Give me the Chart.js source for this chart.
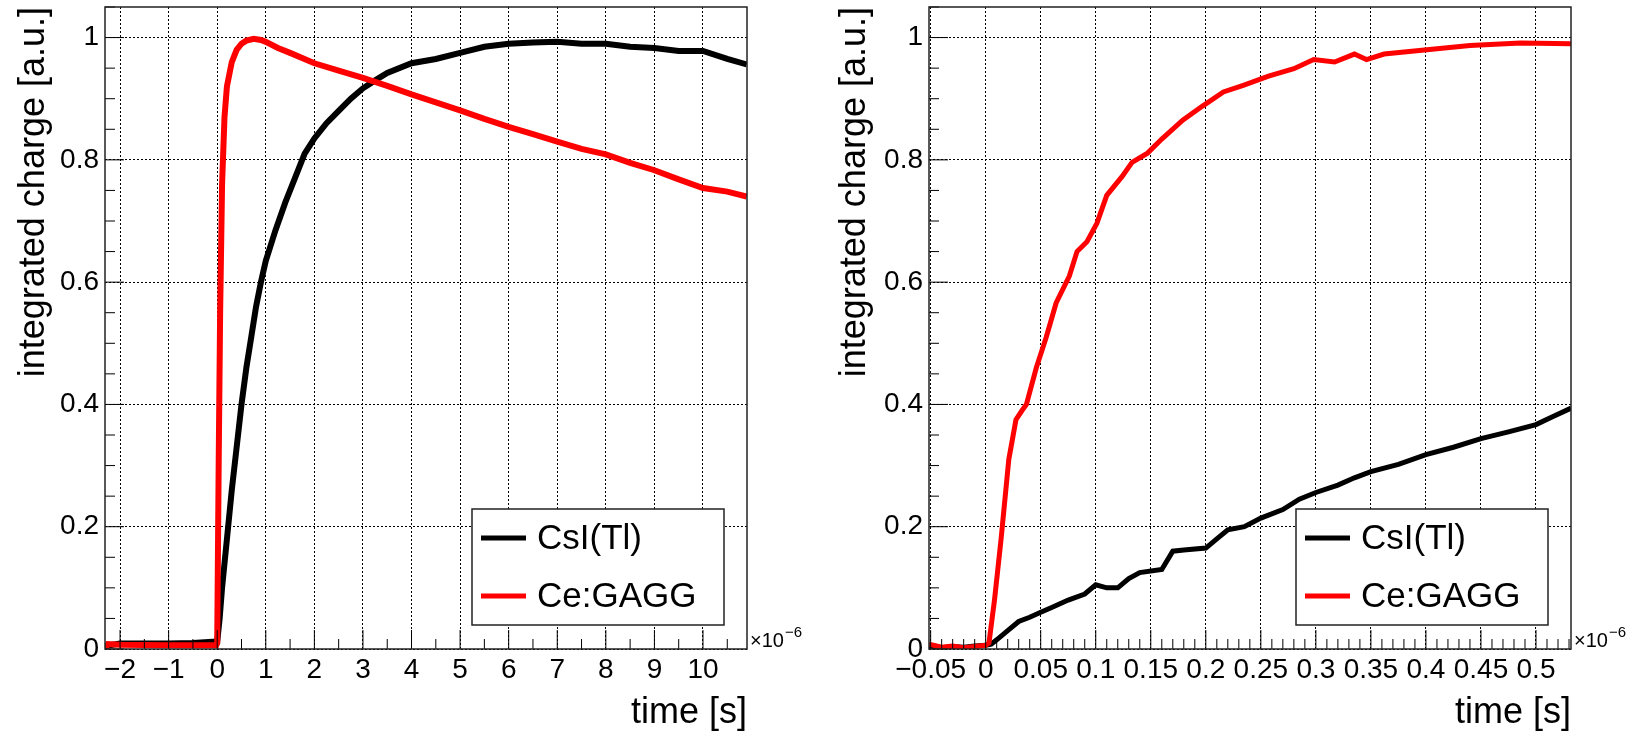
<!DOCTYPE html>
<html>
<head>
<meta charset="utf-8">
<script src="https://cdn.jsdelivr.net/npm/chart.js@4/dist/chart.umd.min.js"></script>
<style>
  html, body { margin: 0; padding: 0; background: #fff; }
  #wrap { position: relative; width: 1630px; height: 731px; }
  .panel { position: absolute; top: 0; width: 815px; height: 731px; }
</style>
</head>
<body>
<div id="wrap">
  <div class="panel" style="left:0"><canvas id="leftChart"></canvas></div>
  <div class="panel" style="left:815px"><canvas id="rightChart"></canvas></div>
</div>
<script>
// time values in units of 1e-6 s (axis shows x10^-6)
const yTicks = [0, 0.2, 0.4, 0.6, 0.8, 1];
const leftXTicks = [-2, -1, 0, 1, 2, 3, 4, 5, 6, 7, 8, 9, 10];
const rightXTicks = [-0.05, 0, 0.05, 0.1, 0.15, 0.2, 0.25, 0.3, 0.35, 0.4, 0.45, 0.5];

// left panel, long time window
const leftCsITime = [-2.31, -2.0, -1.5, -1.0, -0.5, -0.1, 0.0, 0.05, 0.1, 0.2, 0.3, 0.4, 0.5, 0.6, 0.7, 0.8, 0.9, 1.0,
  1.2, 1.4, 1.6, 1.8, 2.0, 2.25, 2.5, 2.75, 3.0, 3.25, 3.5, 4.0, 4.5, 5.0, 5.5, 6.0, 6.5, 7.0, 7.5, 8.0, 8.5,
  9.0, 9.5, 10.0, 10.5, 10.9];
const leftCsIValue = [0.005, 0.009, 0.009, 0.009, 0.01, 0.012, 0.012, 0.05, 0.1, 0.18, 0.26, 0.33, 0.4, 0.46, 0.51, 0.56, 0.6, 0.635,
  0.685, 0.73, 0.77, 0.81, 0.835, 0.86, 0.88, 0.9, 0.917, 0.93, 0.942, 0.958, 0.965, 0.975, 0.985, 0.99, 0.992, 0.993, 0.99, 0.99, 0.985,
  0.983, 0.978, 0.978, 0.965, 0.956];

const leftGaggTime = [-2.31, -2.25, -2.0, -1.0, -0.5, -0.02, 0.0, 0.03, 0.06, 0.1, 0.15, 0.2, 0.3, 0.4, 0.5, 0.6, 0.75, 0.9, 1.0,
  1.25, 1.5, 2.0, 2.5, 3.0, 3.5, 4.0, 4.5, 5.0, 5.5, 6.0, 6.5, 7.0, 7.5, 8.0, 8.5, 9.0, 9.5, 10.0, 10.5, 10.9];
const leftGaggValue = [0.0, 0.008, 0.007, 0.006, 0.006, 0.006, 0.01, 0.3, 0.55, 0.76, 0.87, 0.92, 0.96, 0.98, 0.99, 0.995, 0.998, 0.996, 0.993,
  0.983, 0.975, 0.958, 0.946, 0.934, 0.921, 0.907, 0.894, 0.881, 0.867, 0.854, 0.842, 0.83, 0.818, 0.809, 0.795, 0.783, 0.768, 0.754, 0.748, 0.74];

// right panel, first 0.53 us
const rightCsITime = [-0.0515, -0.04, -0.03, -0.02, -0.01, 0.0, 0.005, 0.01, 0.02, 0.03, 0.04, 0.05, 0.06, 0.075, 0.09, 0.1,
  0.11, 0.12, 0.13, 0.14, 0.16, 0.17, 0.18, 0.2, 0.21, 0.22, 0.235, 0.25, 0.27, 0.285, 0.3, 0.32, 0.335, 0.35, 0.375,
  0.4, 0.425, 0.45, 0.475, 0.5, 0.515, 0.532];
const rightCsIValue = [0.005, 0.002, 0.004, 0.003, 0.005, 0.006, 0.008, 0.015, 0.03, 0.045, 0.052, 0.06, 0.068, 0.08, 0.09, 0.105,
  0.1, 0.1, 0.115, 0.125, 0.13, 0.16, 0.162, 0.165, 0.18, 0.195, 0.2, 0.214, 0.228, 0.245, 0.256, 0.268, 0.28, 0.29, 0.302,
  0.318, 0.33, 0.344, 0.355, 0.367, 0.38, 0.394];

const rightGaggTime = [-0.0515, -0.04, -0.03, -0.02, -0.01, 0.0, 0.003, 0.008, 0.014, 0.021, 0.0275, 0.033, 0.037, 0.046, 0.055,
  0.064, 0.076, 0.083, 0.092, 0.101, 0.11, 0.124, 0.133, 0.147, 0.16, 0.179, 0.197, 0.216, 0.234, 0.257, 0.28, 0.298,
  0.317, 0.335, 0.346, 0.362, 0.394, 0.44, 0.486, 0.532];
const rightGaggValue = [0.008, 0.003, 0.005, 0.002, 0.004, 0.006, 0.01, 0.08, 0.18, 0.31, 0.375, 0.39, 0.4, 0.46, 0.51,
  0.566, 0.61, 0.65, 0.666, 0.696, 0.742, 0.773, 0.796, 0.811, 0.834, 0.865, 0.888, 0.911, 0.922, 0.937, 0.949, 0.964,
  0.96, 0.973, 0.964, 0.973, 0.979, 0.987, 0.991, 0.99];

const seriesNames = ['CsI(Tl)', 'Ce:GAGG'];
const seriesColors = ['#000000', '#ff0000'];

Chart.defaults.font.family = "'Liberation Sans', Arial, Helvetica, sans-serif";
Chart.defaults.color = '#000';

function pts(xs, ys) {
  return xs.map((x, i) => ({ x: x, y: ys[i] }));
}

function fmt(v) {
  return String(Math.round(v * 1000) / 1000).replace('-', '\u2212');
}

// ROOT style: frame, inward ticks, legend box and exponent label
const rootDecor = {
  id: 'rootDecor',
  afterDraw(chart, args, o) {
    const { ctx, chartArea: a, scales: { x, y } } = chart;
    ctx.save();
    ctx.strokeStyle = '#000';
    ctx.lineWidth = 1;
    ctx.beginPath();
    const xr = o.xMinor;
    for (let v = Math.ceil(x.min / xr - 1e-6) * xr; v <= x.max + 1e-9; v += xr) {
      const px = x.getPixelForValue(v);
      const isMajor = Math.abs(v / o.xMajor - Math.round(v / o.xMajor)) < 1e-6;
      ctx.moveTo(px, a.bottom);
      ctx.lineTo(px, a.bottom - (isMajor ? 19 : 10));
    }
    for (let v = 0; v <= y.max + 1e-9; v += 0.05) {
      const py = y.getPixelForValue(v);
      const isMajor = Math.abs(v / 0.2 - Math.round(v / 0.2)) < 1e-6;
      ctx.moveTo(a.left, py);
      ctx.lineTo(a.left + (isMajor ? 19 : 10), py);
    }
    ctx.stroke();

    // legend
    const bw = 252, bh = 116;
    const bx = a.right - 23 - bw, by = a.bottom - 24 - bh;
    ctx.fillStyle = '#fff';
    ctx.fillRect(bx, by, bw, bh);
    ctx.lineWidth = 1.5;
    ctx.strokeStyle = '#222';
    ctx.strokeRect(bx, by, bw, bh);
    ctx.font = "35px 'Liberation Sans', Arial, sans-serif";
    ctx.textBaseline = 'middle';
    chart.data.datasets.forEach((ds, i) => {
      const ly = by + 29 + i * 58;
      ctx.strokeStyle = ds.borderColor;
      ctx.lineWidth = 5;
      ctx.beginPath();
      ctx.moveTo(bx + 9, ly);
      ctx.lineTo(bx + 54, ly);
      ctx.stroke();
      ctx.fillStyle = '#000';
      ctx.fillText(ds.label, bx + 65, ly + 1);
    });

    // frame
    ctx.lineWidth = 1.5;
    ctx.strokeStyle = '#222';
    ctx.strokeRect(a.left, a.top, a.right - a.left, a.bottom - a.top);

    // x10^-6
    ctx.fillStyle = '#000';
    ctx.textBaseline = 'alphabetic';
    ctx.font = "20px 'Liberation Sans', Arial, sans-serif";
    ctx.fillText('\u00d710', a.right + 3, a.bottom - 2);
    const w = ctx.measureText('\u00d710').width;
    ctx.font = "15px 'Liberation Sans', Arial, sans-serif";
    ctx.fillText('\u22126', a.right + 3 + w + 1, a.bottom - 12);
    ctx.restore();
  }
};

function makeChart(id, sets, xMin, xMax, xTicks, xMajor, xMinor, yWidth, padRight, yTitlePad, lineW) {
  new Chart(document.getElementById(id), {
    type: 'line',
    data: {
      datasets: sets.map((s, i) => ({
        label: seriesNames[i],
        data: s,
        borderColor: seriesColors[i],
        backgroundColor: seriesColors[i],
        borderWidth: lineW,
        pointRadius: 0,
        tension: 0,
        fill: false,
        order: 2 - i
      }))
    },
    options: {
      responsive: true,
      maintainAspectRatio: false,
      animation: false,
      layout: { padding: { top: 7, right: padRight, left: 0, bottom: 0 } },
      plugins: {
        legend: { display: false },
        tooltip: { enabled: false },
        rootDecor: { xMajor: xMajor, xMinor: xMinor }
      },
      scales: {
        x: {
          type: 'linear',
          min: xMin,
          max: xMax,
          afterBuildTicks: s => { s.ticks = xTicks.map(v => ({ value: v })); },
          afterFit: s => { s.height = 82; s.paddingLeft = 0; s.paddingRight = 0; },
          grid: { color: '#000', lineWidth: 1, drawTicks: false },
          border: { display: false, dash: [2, 2] },
          ticks: {
            autoSkip: false, maxRotation: 0, padding: 4,
            font: { size: 28 },
            callback: v => fmt(v)
          },
          title: {
            display: true, text: 'time [s]', align: 'end',
            font: { size: 36, lineHeight: 1.0 }, padding: { top: 0, bottom: 0 }
          }
        },
        y: {
          min: 0,
          max: 1.05,
          afterBuildTicks: s => { s.ticks = yTicks.map(v => ({ value: v })); },
          afterFit: s => { s.width = yWidth; s.paddingTop = 0; s.paddingBottom = 0; },
          grid: { color: '#000', lineWidth: 1, drawTicks: false },
          border: { display: false, dash: [2, 2] },
          ticks: { padding: 6, font: { size: 28 }, callback: v => fmt(v) },
          title: {
            display: true, text: 'integrated charge [a.u.]', align: 'end',
            font: { size: 36 }, padding: { top: yTitlePad, bottom: 0 }
          }
        }
      }
    },
    plugins: [rootDecor]
  });
}

makeChart('leftChart',
  [pts(leftCsITime, leftCsIValue), pts(leftGaggTime, leftGaggValue)],
  -2.31, 10.906, leftXTicks, 1, 0.5, 105, 68, 12, 6);

makeChart('rightChart',
  [pts(rightCsITime, rightCsIValue), pts(rightGaggTime, rightGaggValue)],
  -0.0515, 0.5318, rightXTicks, 0.05, 0.01, 114, 59, 18, 5);
</script>
</body>
</html>
